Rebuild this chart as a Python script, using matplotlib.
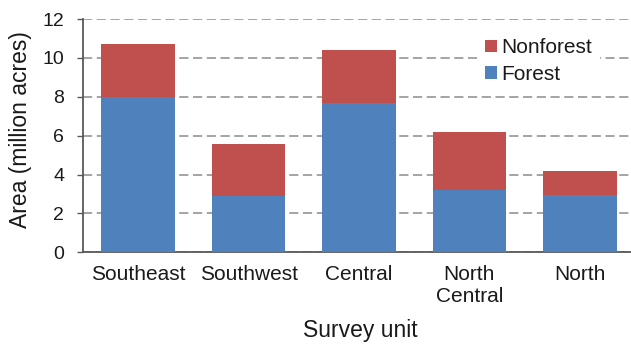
import matplotlib
matplotlib.use("Agg")
import matplotlib.pyplot as plt
from matplotlib.patches import Patch
import numpy as np

units = ["Southeast", "Southwest", "Central", "North\nCentral", "North"]
forest = [8.0, 2.88, 7.66, 3.22, 2.95]
nonforest = [2.70, 2.69, 2.76, 2.95, 1.25]
y_ticks = [0, 2, 4, 6, 8, 10, 12]

blue = "#4F81BD"
red = "#C0504D"
axis_col = "#595959"
grid_col = "#8C8C8C"

plt.rcParams["font.family"] = ["Liberation Sans", "DejaVu Sans"]

W, H = 631, 347
fig = plt.figure(figsize=(W / 100, H / 100), dpi=100)
left, right = 83, 635
top, bottom = 19, 252.3
ax = fig.add_axes([left / W, (H - bottom) / H, (right - left) / W, (bottom - top) / H])

x = np.arange(len(units))
ax.bar(x, forest, width=0.667, color=blue, linewidth=0, zorder=3)
ax.bar(x, nonforest, width=0.667, bottom=forest, color=red, linewidth=0, zorder=3)

ax.set_xlim(-0.5, len(units) - 0.5)
ax.set_ylim(0, 12)
ax.set_yticks(y_ticks)
ax.set_xticks(x)
ax.set_xticklabels(units, fontsize=15, color="#1a1a1a")
ax.tick_params(axis="x", length=0, pad=9)
ax.tick_params(axis="y", length=4.5, width=1, color=axis_col, pad=9, labelsize=14,
               labelcolor="#1a1a1a", direction="out")

ax.yaxis.grid(True, color=grid_col, linestyle=(0, (6, 3)), linewidth=1.1, zorder=0)
ax.set_axisbelow(True)
for s in ("top", "right"):
    ax.spines[s].set_visible(False)
for s in ("left", "bottom"):
    ax.spines[s].set_color(axis_col)
    ax.spines[s].set_linewidth(1.3)

ax.set_ylabel("Area (million acres)", fontsize=16.5, color="#1a1a1a")
ax.yaxis.set_label_coords(-0.092, 0.524)
fig.text(360 / W, 1 - 330 / H, "Survey unit", fontsize=16.5, ha="center", va="center",
         color="#1a1a1a")

handles = [Patch(facecolor=red, edgecolor="none", label="Nonforest"),
           Patch(facecolor=blue, edgecolor="none", label="Forest")]
leg = ax.legend(handles=handles, loc="upper left",
                bbox_to_anchor=(477 / W, 1 - 30 / H), bbox_transform=fig.transFigure,
                fontsize=15, frameon=True, fancybox=False, borderaxespad=0,
                borderpad=0.4, handlelength=0.55, handleheight=0.57,
                handletextpad=0.2, labelspacing=0.35, labelcolor="#1a1a1a")
leg.get_frame().set_facecolor("white")
leg.get_frame().set_edgecolor("none")
leg.get_frame().set_alpha(1)
leg.set_zorder(5)

fig.savefig("out.png", dpi=100)
